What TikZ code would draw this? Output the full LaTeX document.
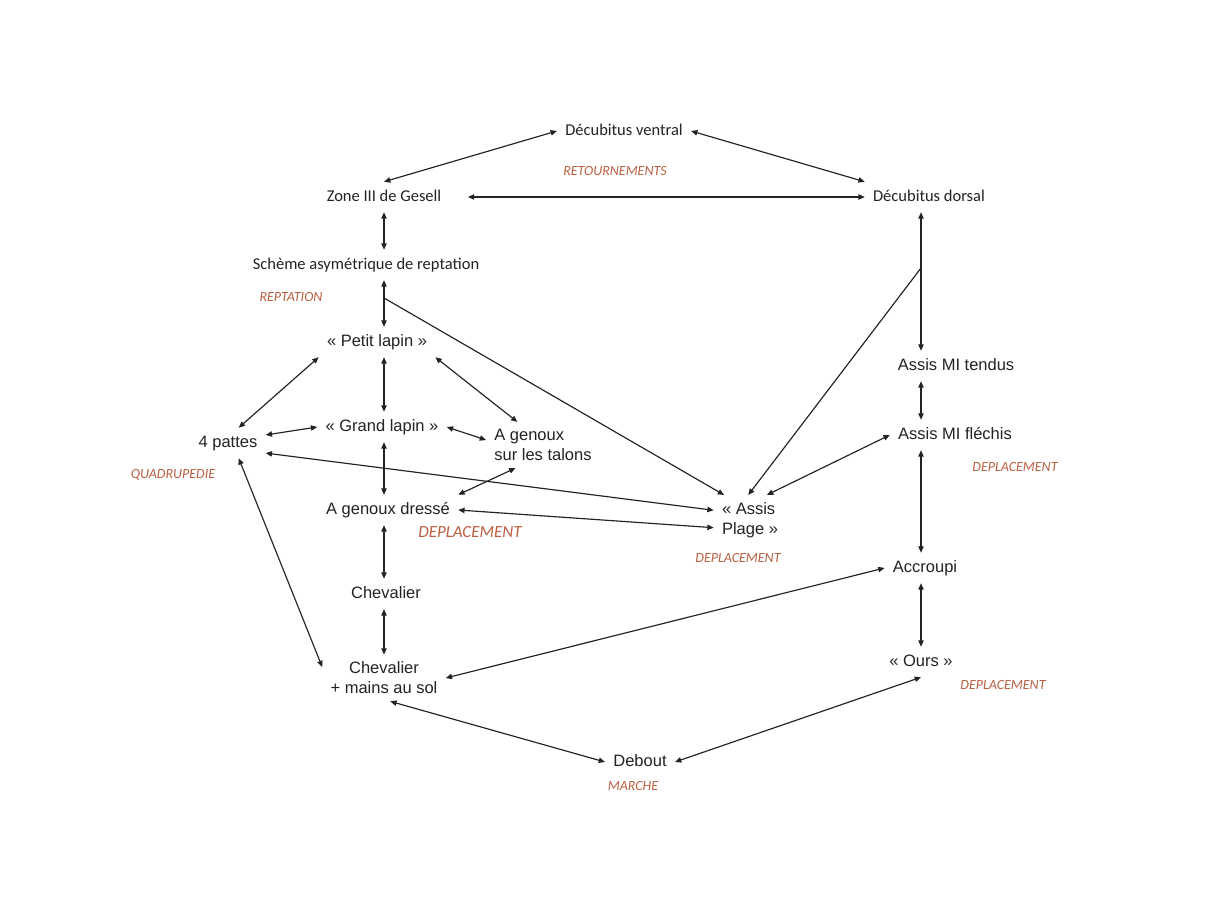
\documentclass[tikz,border=0pt]{standalone}
\usepackage{fontspec}
\setmainfont{Liberation Sans}
\newfontfamily\calib{Carlito}
\usetikzlibrary{arrows.meta}
\definecolor{rouge}{RGB}{188,96,66}
\definecolor{encre}{RGB}{35,35,35}
\tikzset{
  etat/.style={inner xsep=4.8pt, inner ysep=4.2pt, text=encre, font=\fontsize{9.9}{12}\selectfont},
  etat1/.style={etat, text height=7.5pt, text depth=2pt},
  etat2/.style={etat, align=left},
  haut/.style={etat1, font=\calib\fontsize{9.9}{12}\selectfont},
  cat/.style={text=rouge, font=\calib\itshape\fontsize{8.4}{10}\selectfont},
  fl/.style={draw=encre, line width=0.7pt, >={Triangle[length=3.8pt,width=3.2pt]}, <->},
  fl1/.style={draw=encre, line width=0.7pt, >={Triangle[length=3.8pt,width=3.2pt]}, ->}
}
\begin{document}
\begin{tikzpicture}[x=0.6pt,y=-0.6pt]
\fill[white] (0,0) rectangle (1214,897);
\useasboundingbox (0,0) rectangle (1214,897);
% positions
\node[haut] (ventral) at (624,131) {Décubitus ventral};
\node[haut] (zone) at (384,197) {Zone III de Gesell};
\node[haut] (dorsal) at (929,197) {Décubitus dorsal};
\node[haut] (schema) at (366,265) {Schème asymétrique de reptation};
\node[etat1] (pl) at (377,342) {« Petit lapin »};
\node[etat1] (gl) at (382,427) {« Grand lapin »};
\node[etat1] (fp) at (228,443) {4 pattes};
\node[etat2] (ag) at (543,445) {A genoux\\sur les talons};
\node[etat1] (agd) at (388,510) {A genoux dressé};
\node[etat2] (ap) at (750,520) {« Assis\\Plage »};
\node[etat1] (chev) at (386,594) {Chevalier};
\node[etat2, align=center] (chm) at (384,678) {Chevalier\\+ mains au sol};
\node[etat1] (tendus) at (956,366) {Assis MI tendus};
\node[etat1] (flechis) at (955,435) {Assis MI fléchis};
\node[etat1] (accroupi) at (925,568) {Accroupi};
\node[etat1] (ours) at (921,662) {« Ours »};
\node[etat1] (debout) at (640,762) {Debout};
% categories
\node[cat] (retour) at (615,171) {RETOURNEMENTS};
\node[cat] (rept) at (291,297) {REPTATION};
\node[cat] (quadru) at (173,475) {QUADRUPEDIE};
\node[cat, font=\calib\itshape\fontsize{10.2}{12}\selectfont] (depl1) at (470,532) {DEPLACEMENT};
\node[cat] (depl2) at (738,558) {DEPLACEMENT};
\node[cat] (depl3) at (1015,467) {DEPLACEMENT};
\node[cat] (depl4) at (1003,685) {DEPLACEMENT};
\node[cat] (marche) at (633,786) {MARCHE};
\coordinate (br1) at (384,298);
\coordinate (br2) at (921,268);
% liens
\draw[fl] (ventral.west) -- (zone.north);
\draw[fl] (ventral.east) -- (dorsal.north west);
\draw[fl, shorten <=11pt] (zone.east) -- (dorsal.west);
\draw[fl] (zone.south) -- (zone.south |- schema.north);
\draw[fl] (schema.south -| zone) -- (pl.north -| zone);
\draw[fl1] (br1) -- (ap.136);
\draw[fl] (dorsal.south -| ours) -- (tendus.north -| ours);
\draw[fl1] (br2) -- (ap.94);
\draw[fl] (pl.south west) -- (fp.55);
\draw[fl] (pl.south -| zone) -- (gl.north -| zone);
\draw[fl] (pl.south east) -- (ag.138);
\draw[fl] (fp.12) -- (gl.west);
\draw[fl] (gl.east) -- (ag.175);
\draw[fl] (gl.south -| zone) -- (agd.north -| zone);
\draw[fl] (fp.-15) -- (ap.165);
\draw[fl] (ag.220) -- (agd.north east);
\draw[fl] (agd.east) -- (ap.192);
\draw[fl] (agd.south -| zone) -- (chev.north -| zone);
\draw[fl] (chev.south -| zone) -- (chm.north -| zone);
\draw[fl] (fp.-55) -- (chm.170);
\draw[fl] (tendus.south -| ours) -- (flechis.north -| ours);
\draw[fl] (flechis.west) -- (ap.56);
\draw[fl] (flechis.south -| ours) -- (accroupi.north -| ours);
\draw[fl] (accroupi.west) -- (chm.east);
\draw[fl] (accroupi.south -| ours) -- (ours.north);
\draw[fl] (ours.south) -- (debout.east);
\draw[fl] (chm.-75) -- (debout.west);
\end{tikzpicture}
\end{document}
